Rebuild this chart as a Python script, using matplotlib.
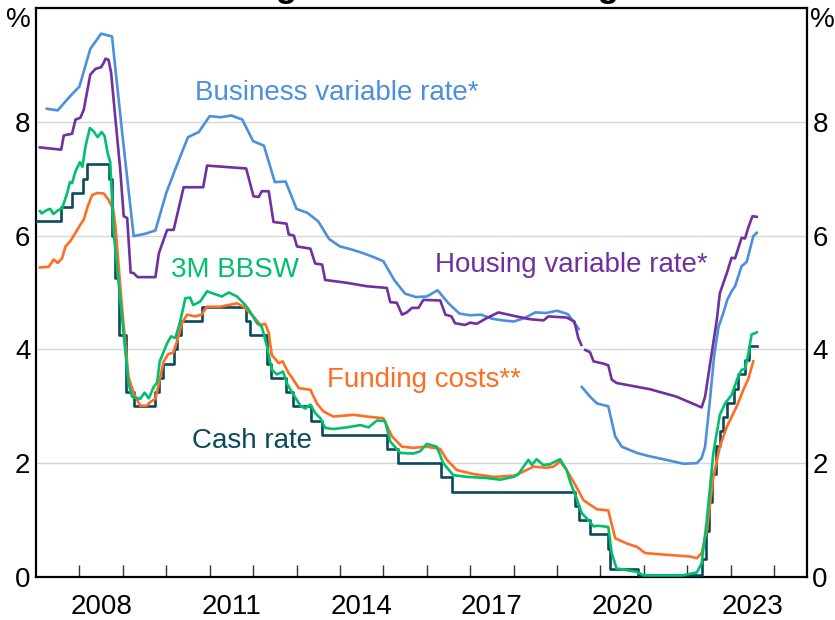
import numpy as np
import matplotlib
matplotlib.use("Agg")
import matplotlib.pyplot as plt

plt.rcParams['font.family'] = ['Liberation Sans', 'DejaVu Sans']

# Business variable rate* (quarterly), NaN marks the series break
business_t = [2007.25, 2007.5, 2007.75, 2008.0, 2008.25, 2008.5, 2008.75, 2009.0,
              2009.25, 2009.5, 2009.75, 2010.0, 2010.25, 2010.5, 2010.75, 2011.0,
              2011.25, 2011.5, 2011.75, 2012.0, 2012.25, 2012.5, 2012.75, 2013.0,
              2013.25, 2013.5, 2013.75, 2014.0, 2014.25, 2014.5, 2014.75, 2015.0,
              2015.25, 2015.5, 2015.75, 2016.0, 2016.25, 2016.5, 2016.75, 2017.0,
              2017.25, 2017.5, 2017.75, 2018.0, 2018.25, 2018.5, 2018.75, 2019.0,
              2019.25, 2019.5, 2019.53,
              2019.57, 2019.76, 2019.92, 2020.18, 2020.34, 2020.49, 2020.84, 2021.14,
              2021.45, 2021.91, 2022.22, 2022.33, 2022.41, 2022.52, 2022.62, 2022.72,
              2022.83, 2022.92, 2023.02, 2023.10, 2023.25, 2023.37, 2023.44, 2023.52,
              2023.60]
business_v = [8.23, 8.20, 8.42, 8.62, 9.28, 9.55, 9.50, 7.70,
              5.99, 6.03, 6.09, 6.75, 7.25, 7.73, 7.82, 8.10,
              8.08, 8.11, 8.04, 7.66, 7.58, 6.94, 6.95, 6.47,
              6.40, 6.25, 5.94, 5.81, 5.76, 5.70, 5.63, 5.55,
              5.22, 4.98, 4.92, 4.93, 5.04, 4.81, 4.63, 4.60,
              4.61, 4.54, 4.51, 4.49, 4.55, 4.65, 4.64, 4.68,
              4.62, 4.36, np.nan,
              3.34, 3.17, 3.05, 3.00, 2.47, 2.29, 2.18, 2.12,
              2.07, 1.99, 2.00, 2.09, 2.29, 3.10, 3.90, 4.40,
              4.64, 4.87, 5.02, 5.11, 5.46, 5.54, 5.75, 5.99,
              6.05]

# Housing variable rate*
housing_t = [2007.09, 2007.58, 2007.64, 2007.83, 2007.91, 2008.02, 2008.10, 2008.25,
             2008.37, 2008.50, 2008.56, 2008.60, 2008.67, 2008.73, 2008.83, 2008.94,
             2009.02, 2009.10, 2009.18, 2009.25, 2009.34, 2009.75, 2009.83, 2010.02,
             2010.17, 2010.40, 2010.85, 2010.94, 2011.84, 2012.01, 2012.13, 2012.20,
             2012.36, 2012.47, 2012.77, 2012.82, 2012.94, 2013.01, 2013.32, 2013.43,
             2013.59, 2013.66, 2014.16, 2014.62, 2015.08, 2015.16, 2015.31, 2015.43,
             2015.54, 2015.66, 2015.81, 2015.92, 2016.31, 2016.43, 2016.57, 2016.65,
             2016.88, 2017.0, 2017.15, 2017.38, 2017.65, 2018.0, 2018.38, 2018.69,
             2018.80, 2019.22, 2019.40, 2019.49, 2019.56, 2019.60,
             2019.65, 2019.76, 2019.84, 2020.07, 2020.18, 2020.26, 2020.37, 2021.14,
             2021.75, 2022.33, 2022.41, 2022.68, 2022.75, 2022.91, 2023.02, 2023.10,
             2023.25, 2023.33, 2023.40, 2023.50, 2023.60]
housing_v = [7.55, 7.51, 7.76, 7.79, 8.04, 8.07, 8.21, 8.83,
             8.93, 8.96, 9.04, 9.11, 9.09, 8.86, 8.04, 7.16,
             6.34, 6.31, 5.35, 5.34, 5.27, 5.27, 5.69, 6.10,
             6.10, 6.85, 6.85, 7.23, 7.18, 6.69, 6.68, 6.78,
             6.78, 6.24, 6.21, 6.02, 6.00, 5.81, 5.77, 5.51,
             5.49, 5.22, 5.17, 5.11, 5.08, 4.83, 4.82, 4.61,
             4.65, 4.73, 4.73, 4.87, 4.86, 4.61, 4.58, 4.46,
             4.43, 4.47, 4.45, 4.55, 4.65, 4.59, 4.53, 4.51,
             4.58, 4.56, 4.49, 4.20, 4.08, np.nan,
             3.99, 3.95, 3.79, 3.75, 3.72, 3.47, 3.41, 3.30,
             3.17, 2.98, 3.17, 4.52, 4.99, 5.34, 5.61, 5.60,
             5.96, 5.95, 6.13, 6.34, 6.33]

# 3M BBSW
bbsw_t = [2007.09, 2007.13, 2007.25, 2007.33, 2007.40, 2007.50, 2007.60, 2007.72,
          2007.78, 2007.83, 2007.91, 2008.01, 2008.07, 2008.14, 2008.24, 2008.33,
          2008.42, 2008.51, 2008.58, 2008.65, 2008.71, 2008.79, 2008.94, 2009.13,
          2009.21, 2009.30, 2009.40, 2009.50, 2009.60, 2009.71, 2009.79, 2009.85,
          2010.02, 2010.11, 2010.21, 2010.32, 2010.44, 2010.55, 2010.62, 2010.78,
          2010.94, 2011.09, 2011.28, 2011.44, 2011.63, 2011.82, 2011.90, 2012.09,
          2012.20, 2012.32, 2012.43, 2012.55, 2012.69, 2012.78, 2012.90, 2013.09,
          2013.20, 2013.32, 2013.43, 2013.55, 2013.66, 2013.85, 2014.16, 2014.47,
          2014.66, 2014.85, 2015.04, 2015.16, 2015.39, 2015.69, 2015.85, 2016.0,
          2016.23, 2016.38, 2016.61, 2016.92, 2017.38, 2017.69, 2018.0, 2018.10,
          2018.34, 2018.42, 2018.53, 2018.68, 2018.83, 2019.07, 2019.22, 2019.30,
          2019.45, 2019.57, 2019.72, 2019.84, 2019.95, 2020.18, 2020.26, 2020.37,
          2020.84, 2020.99, 2021.90, 2022.22, 2022.33, 2022.45, 2022.60, 2022.75,
          2022.87, 2023.02, 2023.17, 2023.25, 2023.33, 2023.40, 2023.48, 2023.60]
bbsw_v = [6.43, 6.39, 6.45, 6.47, 6.38, 6.44, 6.48, 6.75,
          6.94, 6.92, 7.13, 7.29, 7.21, 7.57, 7.89, 7.83,
          7.73, 7.82, 7.75, 7.45, 7.29, 6.05, 4.87, 3.41,
          3.17, 3.15, 3.13, 3.24, 3.14, 3.34, 3.42, 3.79,
          4.11, 4.23, 4.20, 4.49, 4.90, 4.91, 4.78, 4.84,
          5.02, 4.98, 4.93, 5.00, 4.93, 4.78, 4.70, 4.46,
          4.40, 4.05, 3.64, 3.56, 3.61, 3.40, 3.24, 3.01,
          2.96, 3.03, 2.88, 2.79, 2.62, 2.60, 2.63, 2.67,
          2.63, 2.75, 2.74, 2.38, 2.18, 2.17, 2.21, 2.34,
          2.29, 2.00, 1.79, 1.76, 1.74, 1.71, 1.76, 1.80,
          2.06, 1.97, 2.07, 1.97, 1.98, 2.07, 1.88, 1.68,
          1.38, 1.12, 1.00, 0.89, 0.90, 0.88, 0.42, 0.15,
          0.09, 0.03, 0.03, 0.08, 0.24, 1.00, 2.18, 2.85,
          3.05, 3.20, 3.52, 3.64, 3.66, 3.90, 4.26, 4.30]

# Funding costs**
funding_t = [2007.09, 2007.29, 2007.41, 2007.50, 2007.60, 2007.68, 2007.79, 2007.91,
             2008.02, 2008.10, 2008.19, 2008.29, 2008.41, 2008.56, 2008.67, 2008.78,
             2008.83, 2008.98, 2009.13, 2009.25, 2009.40, 2009.55, 2009.64, 2009.75,
             2009.85, 2009.94, 2010.05, 2010.16, 2010.26, 2010.36, 2010.48, 2010.67,
             2010.81, 2010.94, 2011.24, 2011.63, 2011.78, 2012.01, 2012.17, 2012.28,
             2012.36, 2012.43, 2012.59, 2012.68, 2012.82, 2012.90, 2013.05, 2013.32,
             2013.47, 2013.62, 2013.85, 2014.31, 2014.62, 2015.0, 2015.03, 2015.20,
             2015.43, 2015.69, 2016.0, 2016.31, 2016.46, 2016.69, 2017.07, 2017.54,
             2018.0, 2018.08, 2018.46, 2018.76, 2018.92, 2019.07, 2019.22, 2019.42,
             2019.61, 2019.76, 2019.92, 2020.18, 2020.34, 2020.60, 2020.84, 2021.03,
             2021.53, 2022.06, 2022.22, 2022.33, 2022.45, 2022.60, 2022.75, 2022.91,
             2023.14, 2023.29, 2023.40, 2023.52]
funding_v = [5.44, 5.45, 5.58, 5.52, 5.60, 5.81, 5.90, 6.05,
             6.19, 6.28, 6.51, 6.71, 6.75, 6.74, 6.63, 6.46,
             6.16, 4.75, 3.52, 3.23, 3.01, 3.01, 3.08, 3.13,
             3.47, 3.79, 3.92, 3.94, 4.17, 4.46, 4.61, 4.58,
             4.61, 4.75, 4.75, 4.81, 4.75, 4.58, 4.43, 4.45,
             4.29, 3.90, 3.76, 3.79, 3.58, 3.50, 3.32, 3.29,
             3.05, 2.91, 2.82, 2.85, 2.82, 2.79, 2.74, 2.47,
             2.29, 2.27, 2.29, 2.25, 2.06, 1.88, 1.81, 1.76,
             1.78, 1.80, 1.94, 1.92, 1.94, 2.03, 1.88, 1.62,
             1.35, 1.27, 1.19, 1.17, 0.68, 0.59, 0.53, 0.42,
             0.39, 0.36, 0.33, 0.42, 0.83, 1.76, 2.29, 2.64,
             3.00, 3.29, 3.47, 3.79]

# Cash rate (step series)
cash_t = [2007.0, 2007.58, 2007.83, 2008.08, 2008.17, 2008.67, 2008.75, 2008.83,
          2008.92, 2009.08, 2009.25, 2009.75, 2009.83, 2009.92, 2010.17, 2010.25,
          2010.33, 2010.83, 2011.83, 2011.92, 2012.33, 2012.42, 2012.75, 2012.92,
          2013.33, 2013.58, 2015.08, 2015.33, 2016.33, 2016.58, 2019.42, 2019.50,
          2019.75, 2020.17, 2020.22, 2020.87, 2022.33, 2022.42, 2022.50, 2022.58,
          2022.67, 2022.75, 2022.83, 2022.92, 2023.08, 2023.17, 2023.33, 2023.42,
          2023.60]
cash_v = [6.25, 6.50, 6.75, 7.00, 7.25, 7.00, 6.00, 5.25,
          4.25, 3.25, 3.00, 3.25, 3.50, 3.75, 4.00, 4.25,
          4.50, 4.75, 4.50, 4.25, 3.75, 3.50, 3.25, 3.00,
          2.75, 2.50, 2.25, 2.00, 1.75, 1.50, 1.25, 1.00,
          0.75, 0.50, 0.14, 0.03, 0.31, 0.81, 1.31, 1.81,
          2.31, 2.56, 2.81, 3.06, 3.31, 3.56, 3.81, 4.06,
          4.06]

year_labels = ['2008', '2011', '2014', '2017', '2020', '2023']
y_ticks = [0, 2, 4, 6, 8]

c_business = '#4a90dc'
c_housing = '#7030a0'
c_bbsw = '#00c06e'
c_funding = '#ff6d23'
c_cash = '#0b4a5c'

fig = plt.figure(figsize=(8.35, 6.2), dpi=100)
ax = fig.add_axes([36/835, 1 - 577/620, (806.7 - 36)/835, (577 - 8)/620])

lw = 1.9
ax.plot(business_t, business_v, color=c_business, lw=lw, zorder=3)
ax.plot(housing_t, housing_v, color=c_housing, lw=lw, zorder=3)
ax.plot(cash_t, cash_v, color=c_cash, lw=lw, drawstyle='steps-post', zorder=4)
ax.plot(funding_t, funding_v, color=c_funding, lw=lw, zorder=5)
ax.plot(bbsw_t, bbsw_v, color=c_bbsw, lw=lw, zorder=6)

ax.set_xlim(2007.0, 2024.75)
ax.set_ylim(0, 10)

# gridlines
for y in y_ticks[1:]:
    ax.axhline(y, color='#d6d6d6', lw=1.0, zorder=1)

# y ticks on both sides
ax.set_yticks(y_ticks)
ax.tick_params(axis='y', which='both', length=0, labelsize=20, pad=4,
               labelleft=True, labelright=True)

# x: year ticks at year starts, labels mid-year
ax.set_xticks(np.arange(2008, 2025))
ax.set_xticklabels([])
ax.set_xticks([int(s) + 0.5 for s in year_labels], minor=True)
ax.set_xticklabels(year_labels, minor=True)
ax.tick_params(axis='x', which='major', direction='in', length=8.5, width=1,
               color='#333333')
ax.tick_params(axis='x', which='minor', length=0, labelsize=20, pad=12)

for s in ax.spines.values():
    s.set_linewidth(1.6)
    s.set_color('black')

fig.text(18.5/835, 1 - 20/620, '%', fontsize=20, ha='center', va='center')
fig.text(822/835, 1 - 20/620, '%', fontsize=20, ha='center', va='center')

# title sits just above the visible area, only descenders show
fig.text(443/835, 1 + 3/620, 'Lending Rates and Funding Costs', fontsize=25,
         fontweight='bold', ha='center', va='baseline')

fs = 20
ax.text(2010.67, 8.51, 'Business variable rate*', color=c_business, fontsize=fs,
        va='center', ha='left')
ax.text(2010.1, 5.40, '3M BBSW', color=c_bbsw, fontsize=fs, va='center', ha='left')
ax.text(2016.19, 5.48, 'Housing variable rate*', color=c_housing, fontsize=fs,
        va='center', ha='left')
ax.text(2013.7, 3.47, 'Funding costs**', color=c_funding, fontsize=fs,
        va='center', ha='left')
ax.text(2010.6, 2.39, 'Cash rate', color=c_cash, fontsize=fs, va='center', ha='left')

fig.savefig('out.png', dpi=100)
